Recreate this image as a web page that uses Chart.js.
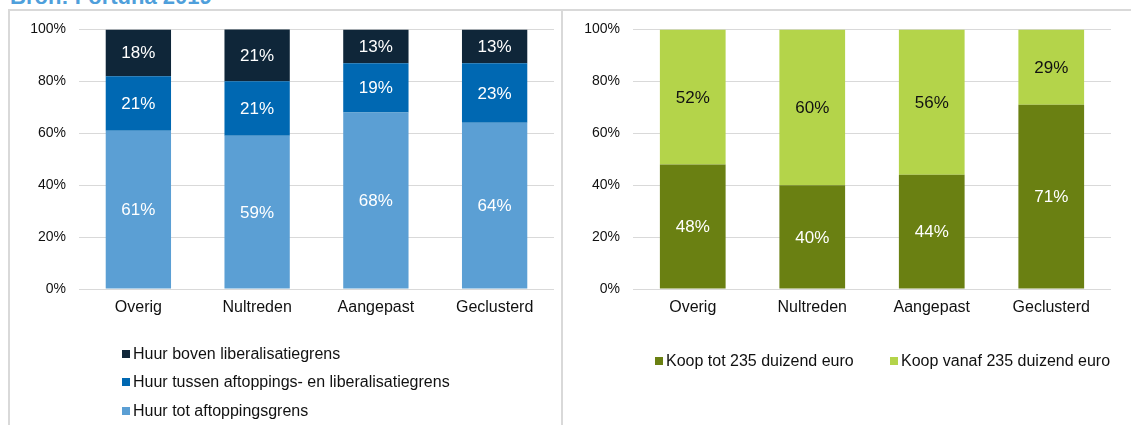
<!DOCTYPE html>
<html>
<head>
<meta charset="utf-8">
<script src="https://cdn.jsdelivr.net/npm/chart.js@4.4.1/dist/chart.umd.min.js"></script>
<style>
  html, body { margin:0; padding:0; background:#fff; }
  body { width:1131px; height:425px; position:relative; overflow:hidden; font-family:"Liberation Sans", Arial, sans-serif; }
  #title { position:absolute; left:10px; top:-16px; font-size:22px; font-weight:bold; color:#4F9FDB; white-space:nowrap; }
  .line { position:absolute; background:#D9D9D9; }
  .cv { position:absolute; }
  .leg { position:absolute; font-size:16px; color:#111; white-space:nowrap; }
  .leg span.box { display:inline-block; width:8px; height:8px; margin-right:3px; vertical-align:middle; position:relative; top:-1px; }
</style>
</head>
<body>
<div id="title">Bron: Fortuna 2019</div>
<div class="line" style="left:8px; top:9px; width:1123px; height:2px;"></div>
<div class="line" style="left:8px; top:9px; width:2px; height:416px;"></div>
<div class="line" style="left:561px; top:9px; width:2px; height:416px;"></div>
<div class="cv" style="left:10px; top:8px; width:551px; height:417px;"><canvas id="c1"></canvas></div>
<div class="cv" style="left:564px; top:8px; width:567px; height:417px;"><canvas id="c2"></canvas></div>
<div id="leg1"></div>
<div id="leg2"></div>
<script>
const categories = ["Overig", "Nultreden", "Aangepast", "Geclusterd"];
// Left chart (huur), bottom to top
const huurTot = [61, 59, 68, 64];
const huurTussen = [21, 21, 19, 23];
const huurBoven = [18, 21, 13, 13];
// Right chart (koop), bottom to top
const koopTot = [48, 40, 44, 71];
const koopVanaf = [52, 60, 56, 29];
const yTicks = [0, 20, 40, 60, 80, 100];

const FONT = '"Liberation Sans", Arial, sans-serif';

const labelPlugin = {
  id: 'barLabels',
  afterDatasetsDraw(chart) {
    const ctx = chart.ctx;
    ctx.save();
    ctx.font = '17px ' + FONT;
    ctx.textAlign = 'center';
    ctx.textBaseline = 'middle';
    chart.data.datasets.forEach((ds, i) => {
      const meta = chart.getDatasetMeta(i);
      meta.data.forEach((el, j) => {
        const p = el.getProps(['x', 'y', 'base'], true);
        const top = Math.max(p.y, chart.chartArea.top);
        ctx.fillStyle = ds.labelColor;
        ctx.fillText(ds.data[j] + '%', p.x, (top + p.base) / 2 + 1);
      });
    });
    ctx.restore();
  }
};

function makeChart(id, datasets, padRight) {
  return new Chart(document.getElementById(id), {
    type: 'bar',
    data: { labels: categories, datasets },
    plugins: [labelPlugin],
    options: {
      responsive: true,
      maintainAspectRatio: false,
      animation: false,
      layout: { padding: { left: 9, right: padRight, top: 11, bottom: 0 } },
      plugins: { legend: { display: false }, tooltip: { enabled: false } },
      datasets: { bar: { categoryPercentage: 1, barPercentage: 0.55 } },
      scales: {
        x: {
          stacked: true,
          grid: { display: false, drawTicks: false },
          border: { display: false },
          ticks: { color: '#111', font: { size: 16, family: FONT }, padding: 9, maxRotation: 0 },
          afterFit(s) { s.height = 136; }
        },
        y: {
          stacked: true,
          min: 0, max: 100,
          afterBuildTicks(s) { s.ticks = yTicks.map(v => ({ value: v })); },
          grid: { color: '#D9D9D9', lineWidth: 1, drawTicks: false },
          border: { display: false },
          ticks: { color: '#111', font: { size: 14, family: FONT }, padding: 13, callback: v => v + '%' },
          afterFit(s) { s.width = 60; }
        }
      }
    }
  });
}

const left = [
  { label: 'Huur tot aftoppingsgrens', data: huurTot, backgroundColor: '#5B9FD4', labelColor: '#ffffff' },
  { label: 'Huur tussen aftoppings- en liberalisatiegrens', data: huurTussen, backgroundColor: '#0068B2', labelColor: '#ffffff' },
  { label: 'Huur boven liberalisatiegrens', data: huurBoven, backgroundColor: '#0F2639', labelColor: '#ffffff' }
];
const right = [
  { label: 'Koop tot 235 duizend euro', data: koopTot, backgroundColor: '#6A8012', labelColor: '#ffffff' },
  { label: 'Koop vanaf 235 duizend euro', data: koopVanaf, backgroundColor: '#B4D44A', labelColor: '#111111' }
];
makeChart('c1', left, 7);
makeChart('c2', right, 20);

// HTML legends built from dataset definitions
const leg1 = document.getElementById('leg1');
const leftRev = left.slice().reverse();
const ly = [355, 383, 412];
leftRev.forEach((d, i) => {
  const el = document.createElement('div');
  el.className = 'leg';
  el.style.left = '122px';
  el.style.top = (ly[i] - 10) + 'px';
  el.innerHTML = '<span class="box" style="background:' + d.backgroundColor + '"></span>' + d.label;
  leg1.appendChild(el);
});
const leg2 = document.getElementById('leg2');
const rx = [655, 890];
right.forEach((d, i) => {
  const el = document.createElement('div');
  el.className = 'leg';
  el.style.left = rx[i] + 'px';
  el.style.top = (362 - 10) + 'px';
  el.innerHTML = '<span class="box" style="background:' + d.backgroundColor + '"></span>' + d.label;
  leg2.appendChild(el);
});
</script>
</body>
</html>
